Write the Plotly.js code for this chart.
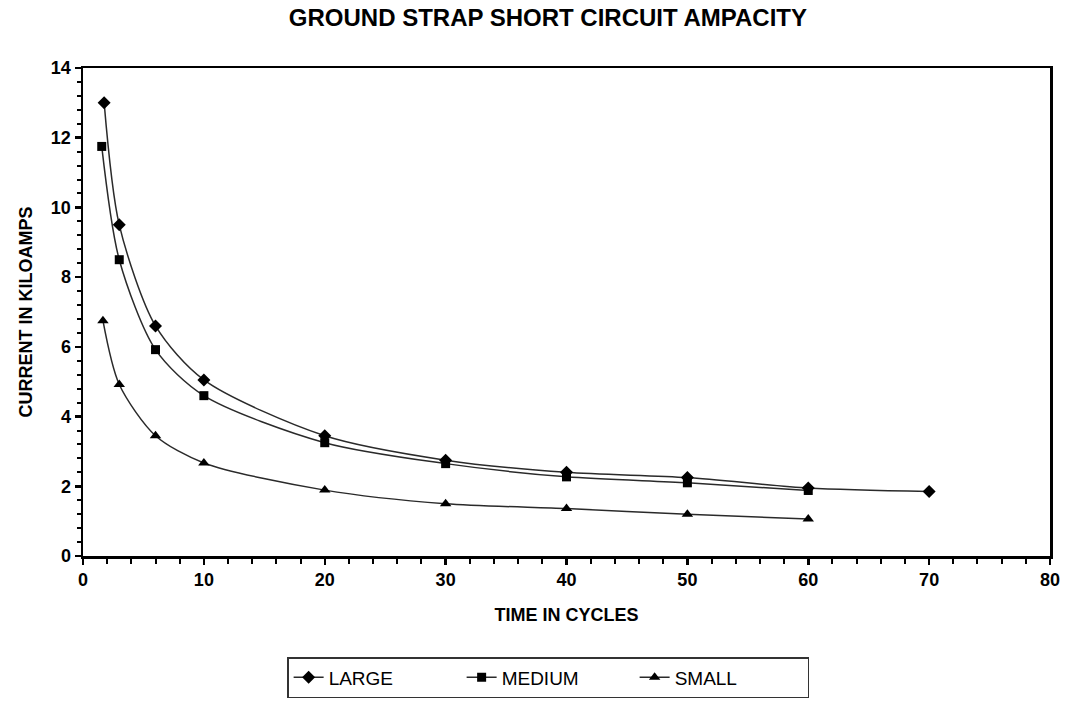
<!DOCTYPE html>
<html>
<head>
<meta charset="utf-8">
<script src="https://cdn.plot.ly/plotly-3.0.1.min.js"></script>
<style>
html,body{margin:0;padding:0;background:#fff;}
#chart{width:1066px;height:714px;}
</style>
</head>
<body>
<div id="chart"></div>
<script>
const largeX = [1.75, 3, 6, 10, 20, 30, 40, 50, 60, 70];
const largeY = [13.0, 9.5, 6.6, 5.05, 3.45, 2.75, 2.4, 2.25, 1.95, 1.85];
const mediumX = [1.55, 3, 6, 10, 20, 30, 40, 50, 60];
const mediumY = [11.75, 8.5, 5.92, 4.6, 3.25, 2.65, 2.27, 2.1, 1.88];
const smallX = [1.65, 3, 6, 10, 20, 30, 40, 50, 60];
const smallY = [6.75, 4.92, 3.45, 2.67, 1.89, 1.5, 1.36, 1.2, 1.06];
const seriesNames = ['LARGE', 'MEDIUM', 'SMALL'];
const xTickVals = [0, 10, 20, 30, 40, 50, 60, 70, 80];
const xTickLabels = ['0', '10', '20', '30', '40', '50', '60', '70', '80'];
const yTickVals = [0, 2, 4, 6, 8, 10, 12, 14];
const yTickLabels = ['0', '2', '4', '6', '8', '10', '12', '14'];

const FONT = 'Liberation Sans, Arial, sans-serif';
const lineStyle = {color: '#2a2a2a', width: 1.5, shape: 'spline', smoothing: 0.8};
function tr(name, x, y, sym, size) {
  return {x: x, y: y, name: name, type: 'scatter', mode: 'lines+markers',
    line: lineStyle, marker: {symbol: sym, size: size, color: '#000'}};
}
const data = [
  tr(seriesNames[0], largeX, largeY, 'diamond', 10),
  tr(seriesNames[1], mediumX, mediumY, 'square', 9),
  tr(seriesNames[2], smallX, smallY, 'triangle-up', 10)
];
const bold = s => '<b>' + s + '</b>';
const tickFont = {family: FONT, size: 18, color: '#000'};
const layout = {
  width: 1066, height: 714,
  margin: {l: 83, r: 16, t: 68, b: 158},
  paper_bgcolor: '#fff', plot_bgcolor: '#fff',
  title: {text: bold('GROUND STRAP SHORT CIRCUIT AMPACITY'), x: 0.514, xanchor: 'center', y: 0.975, yanchor: 'middle',
    font: {family: FONT, size: 24, color: '#000'}},
  xaxis: {range: [0, 80], tickmode: 'array', tickvals: xTickVals, ticktext: xTickLabels.map(bold),
    showgrid: false, zeroline: false,
    showline: true, linecolor: '#000', linewidth: 2.5, mirror: true,
    ticks: 'outside', ticklen: 6, tickwidth: 2.5, tickcolor: '#000',
    minor: {dtick: 2, tick0: 0, ticks: 'outside', ticklen: 5, tickwidth: 2, tickcolor: '#000'},
    tickfont: tickFont,
    title: {text: bold('TIME IN CYCLES'), standoff: 20, font: {family: FONT, size: 18, color: '#000'}}},
  yaxis: {range: [0, 14], tickmode: 'array', tickvals: yTickVals, ticktext: yTickLabels.map(bold),
    showgrid: false, zeroline: false,
    showline: true, linecolor: '#000', linewidth: 2.5, mirror: true,
    ticks: 'outside', ticklen: 6, tickwidth: 2.5, tickcolor: '#000',
    minor: {dtick: 0.4, tick0: 0, ticks: 'outside', ticklen: 4, tickwidth: 2, tickcolor: '#000'},
    tickfont: tickFont,
    title: {text: bold('CURRENT IN KILOAMPS'), standoff: 14, font: {family: FONT, size: 18, color: '#000'}}},
  showlegend: true,
  legend: {orientation: 'h', x: 0.481, xanchor: 'center', y: -0.207, yanchor: 'top',
    bordercolor: '#333', borderwidth: 1.5, bgcolor: '#fff',
    entrywidth: 128, entrywidthmode: 'pixels',
    font: {family: FONT, size: 19, color: '#000'}}
};
Plotly.newPlot('chart', data, layout, {displayModeBar: false, staticPlot: true});
</script>
</body>
</html>
